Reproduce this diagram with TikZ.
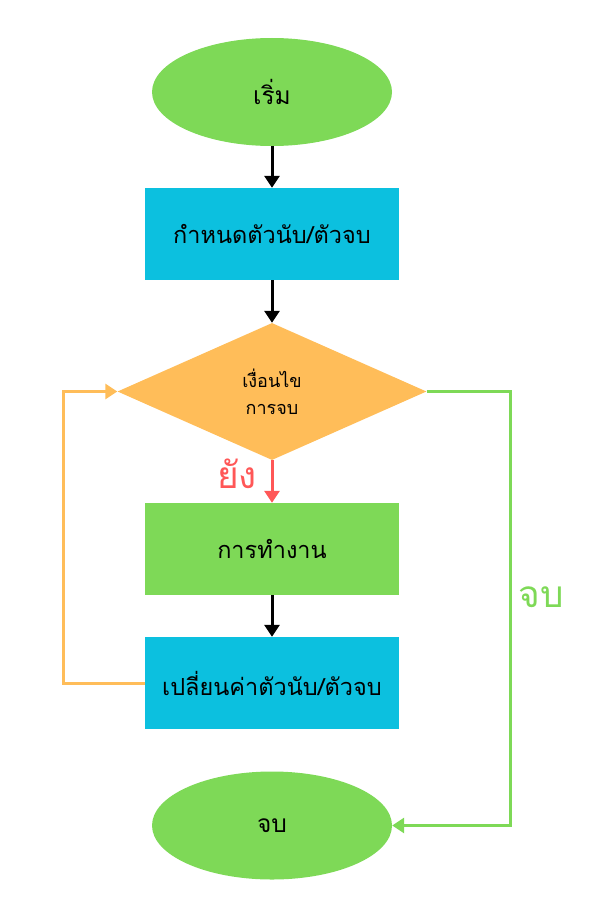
\documentclass[tikz,border=0pt]{standalone}
\usepackage{fontspec}
\newfontfamily\thaifont[Script=Thai]{Loma}
\usetikzlibrary{shapes.geometric,arrows.meta}
\definecolor{cgreen}{HTML}{7ED957}
\definecolor{ccyan}{HTML}{0CC0DF}
\definecolor{corange}{HTML}{FFBD59}
\definecolor{cred}{HTML}{FF5757}
\begin{document}
\begin{tikzpicture}[x=1pt,y=-1pt,
  termbox/.style={ellipse,fill=cgreen,minimum width=240pt,minimum height=108pt,inner sep=0pt,font=\thaifont\fontsize{24.5}{28}\selectfont},
  procbox/.style={rectangle,minimum width=254pt,minimum height=92pt,inner sep=0pt,font=\thaifont\fontsize{23.5}{28}\selectfont},
  decbox/.style={diamond,fill=corange,minimum width=309pt,minimum height=137pt,inner sep=0pt,align=center,font=\thaifont\fontsize{18}{27}\selectfont},
  conn/.style={line width=3pt,-{Triangle[length=12pt,width=15pt]}},
  lbl/.style={font=\thaifont\fontsize{37}{40}\selectfont}
]
\useasboundingbox (0,0) rectangle (590,907);
\node[termbox] (start) at (272,92) {เริ่ม};
\node[procbox,fill=ccyan] (init) at (272,234) {กำหนดตัวนับ/ตัวจบ};
\node[decbox] (cond) at (272,391.5) {เงื่อนไข\\การจบ};
\node[procbox,fill=cgreen] (work) at (272,549) {การทำงาน};
\node[procbox,fill=ccyan] (upd) at (272,683) {เปลี่ยนค่าตัวนับ/ตัวจบ};
\node[termbox] (stop) at (272,825.5) {จบ};
\coordinate (lx) at (63,0);
\coordinate (rx) at (510,0);
\draw[conn,black] (start) -- (init);
\draw[conn,black] (init) -- (cond);
\draw[conn,cred] (cond) -- (work);
\draw[conn,black] (work) -- (upd);
\draw[conn,corange,line join=miter] (upd.west) -- (upd.west -| lx) -- (cond.west -| lx) -- (cond.west);
\draw[conn,cgreen,line join=miter] (cond.east) -- (cond.east -| rx) -- (stop.east -| rx) -- (stop.east);
\node[lbl,text=cred] (yes) at (237,474) {ยัง};
\node[lbl,text=cgreen] (no) at (541,597) {จบ};
\end{tikzpicture}
\end{document}
